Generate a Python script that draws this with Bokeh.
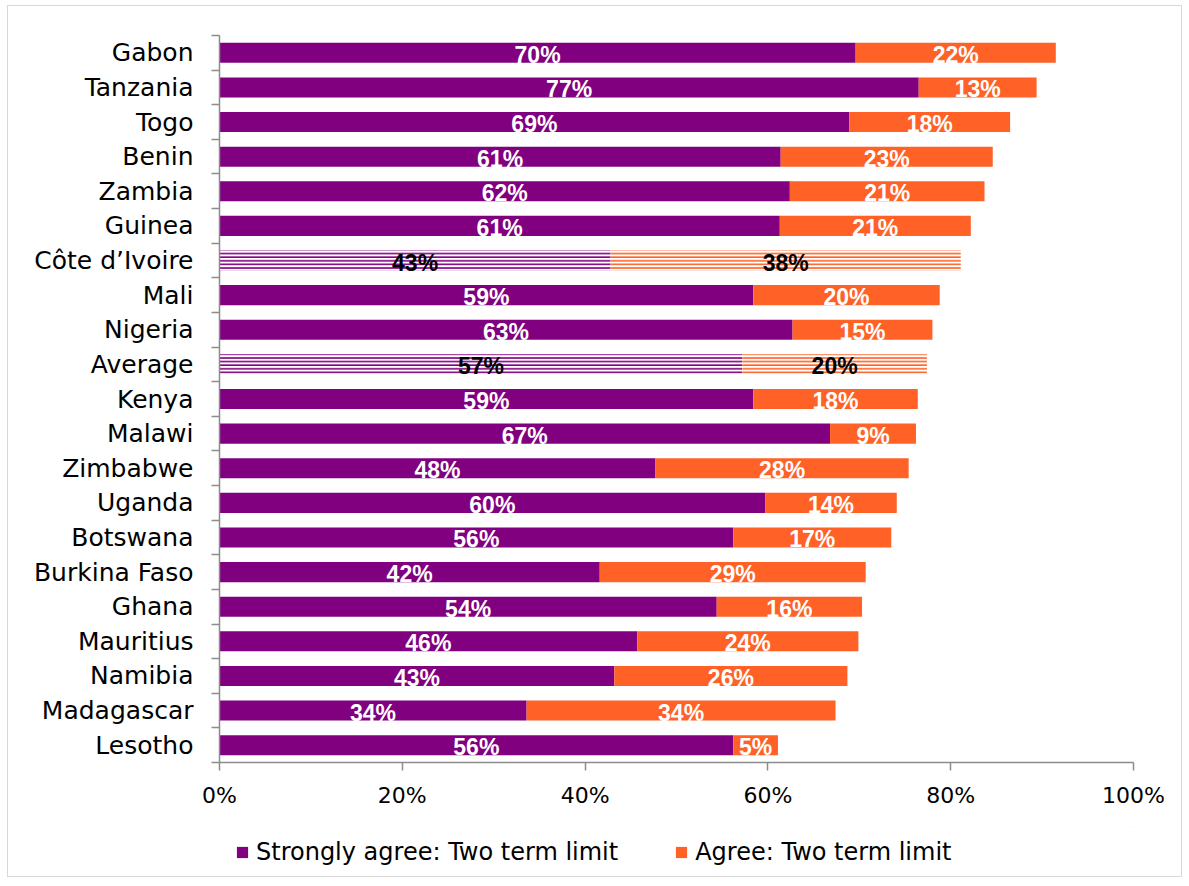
from bokeh.plotting import figure
from bokeh.models import (ColumnDataSource, FixedTicker, Legend, LegendItem, Range1d)
from bokeh.layouts import column
from bokeh.embed import file_html
from bokeh.resources import INLINE
from bokeh.core.properties import value

countries = ["Gabon", "Tanzania", "Togo", "Benin", "Zambia", "Guinea", "Côte d’Ivoire",
             "Mali", "Nigeria", "Average", "Kenya", "Malawi", "Zimbabwe", "Uganda",
             "Botswana", "Burkina Faso", "Ghana", "Mauritius", "Namibia", "Madagascar", "Lesotho"]
strongly = [69.6, 76.5, 68.9, 61.4, 62.4, 61.3, 42.8, 58.4, 62.7, 57.2, 58.4, 66.8,
            47.7, 59.7, 56.2, 41.6, 54.4, 45.7, 43.2, 33.6, 56.2]
agree = [21.9, 12.9, 17.6, 23.2, 21.3, 20.9, 38.3, 20.4, 15.3, 20.2, 18.0, 9.4,
         27.7, 14.4, 17.3, 29.1, 15.9, 24.2, 25.5, 33.8, 4.9]
strongly_labels = ["70%", "77%", "69%", "61%", "62%", "61%", "43%", "59%", "63%", "57%", "59%",
                   "67%", "48%", "60%", "56%", "42%", "54%", "46%", "43%", "34%", "56%"]
agree_labels = ["22%", "13%", "18%", "23%", "21%", "21%", "38%", "20%", "15%", "20%", "18%",
                "9%", "28%", "14%", "17%", "29%", "16%", "24%", "26%", "34%", "5%"]
hatched = ["Côte d’Ivoire", "Average"]
x_ticks = [0, 20, 40, 60, 80, 100]
x_tick_labels = ["0%", "20%", "40%", "60%", "80%", "100%"]

PURPLE = "#800080"
ORANGE = "#FF6127"
AXIS = "#8c8c8c"

n = len(countries)
ys = [n - 1 - i for i in range(n)]

def build(mask):
    idx = [i for i in range(n) if mask(i)]
    return ColumnDataSource(dict(
        y=[ys[i] for i in idx],
        s=[strongly[i] for i in idx],
        tot=[strongly[i] + agree[i] for i in idx],
        smid=[strongly[i] / 2 for i in idx],
        amid=[strongly[i] + agree[i] / 2 for i in idx],
        sl=[strongly_labels[i] for i in idx],
        al=[agree_labels[i] for i in idx],
    ))

src_n = build(lambda i: countries[i] not in hatched)
src_h = build(lambda i: countries[i] in hatched)

p = figure(width=1173, height=820, output_backend="svg", toolbar_location=None,
           x_range=Range1d(0, 100), y_range=Range1d(-0.5, n - 0.5),
           min_border_left=211, min_border_right=48, min_border_top=29,
           min_border_bottom=64)
p.outline_line_color = None
p.xgrid.visible = False
p.ygrid.visible = False

h = 0.58
r_s = p.hbar(y="y", left=0, right="s", height=h, source=src_n, fill_color=PURPLE,
             line_color=None)
r_a = p.hbar(y="y", left="s", right="tot", height=h, source=src_n, fill_color=ORANGE,
             line_color=None)
p.hbar(y="y", left=0, right="s", height=h, source=src_h, fill_color="white",
       line_color=None, hatch_pattern="horizontal_line", hatch_color=PURPLE,
       hatch_scale=3.6, hatch_weight=1.6)
p.hbar(y="y", left="s", right="tot", height=h, source=src_h, fill_color="white",
       line_color=None, hatch_pattern="horizontal_line", hatch_color=ORANGE,
       hatch_scale=3.6, hatch_weight=1.6)

lab_font = value("Liberation Sans")
for src, col in ((src_n, "white"), (src_h, "black")):
    p.text(x="smid", y="y", text="sl", source=src, text_align="center",
           text_baseline="middle", y_offset=2, text_font=lab_font,
           text_font_size="23px", text_font_style="bold", text_color=col)
    p.text(x="amid", y="y", text="al", source=src, text_align="center",
           text_baseline="middle", y_offset=2, text_font=lab_font,
           text_font_size="23px", text_font_style="bold", text_color=col)

# x axis
xa = p.xaxis[0]
xa.ticker = FixedTicker(ticks=x_ticks)
xa.major_label_overrides = {t: l for t, l in zip(x_ticks, x_tick_labels)}
xa.axis_line_color = AXIS
xa.axis_line_width = 1.5
xa.major_tick_line_color = AXIS
xa.major_tick_line_width = 1.5
xa.major_tick_in = 0
xa.major_tick_out = 8
xa.minor_tick_line_color = None
xa.major_label_standoff = 12
xa.major_label_text_font = "DejaVu Sans"
xa.major_label_text_font_size = "22px"
xa.major_label_text_color = "black"

# y axis
ya = p.yaxis[0]
ya.ticker = FixedTicker(ticks=ys, minor_ticks=[y + 0.5 for y in range(-1, n)])
ya.major_label_overrides = {ys[i]: countries[i] for i in range(n)}
ya.axis_line_color = AXIS
ya.axis_line_width = 1.5
ya.major_tick_line_color = None
ya.major_tick_in = 0
ya.major_tick_out = 0
ya.minor_tick_line_color = AXIS
ya.minor_tick_line_width = 1.5
ya.minor_tick_in = 0
ya.minor_tick_out = 8
ya.major_label_standoff = 18
ya.major_label_text_font = "DejaVu Sans"
ya.major_label_text_font_size = "25px"
ya.major_label_text_color = "black"

# legend in its own strip below (its frame is aligned with the main frame)
pl = figure(width=1173, height=50, output_backend="svg", toolbar_location=None,
            x_range=Range1d(0, 1), y_range=Range1d(0, 1),
            x_axis_location=None, y_axis_location=None,
            min_border_left=0, min_border_right=0, min_border_top=0, min_border_bottom=0)
pl.xgrid.visible = False
pl.ygrid.visible = False
pl.outline_line_color = None
offsrc = ColumnDataSource(dict(y=[5], l=[5], r=[6]))
l_s = pl.hbar(y="y", left="l", right="r", height=1, source=offsrc, fill_color=PURPLE,
              line_color=None)
l_a = pl.hbar(y="y", left="l", right="r", height=1, source=offsrc, fill_color=ORANGE,
              line_color=None)
legend = Legend(items=[LegendItem(label="Strongly agree: Two term limit", renderers=[l_s]),
                       LegendItem(label="Agree: Two term limit", renderers=[l_a])],
                orientation="horizontal", location=(16, 10),
                label_text_font="DejaVu Sans", label_text_font_size="24px",
                label_text_color="black",
                glyph_width=14, glyph_height=14, label_standoff=7, spacing=56,
                border_line_color=None, background_fill_alpha=0, margin=0, padding=0)
pl.add_layout(legend, "center")

layout = column(p, pl, spacing=0)
layout.styles = {"border": "1px solid #d9d9d9", "margin-left": "7px", "margin-top": "5px"}
open("out.html", "w").write(file_html(layout, INLINE))
